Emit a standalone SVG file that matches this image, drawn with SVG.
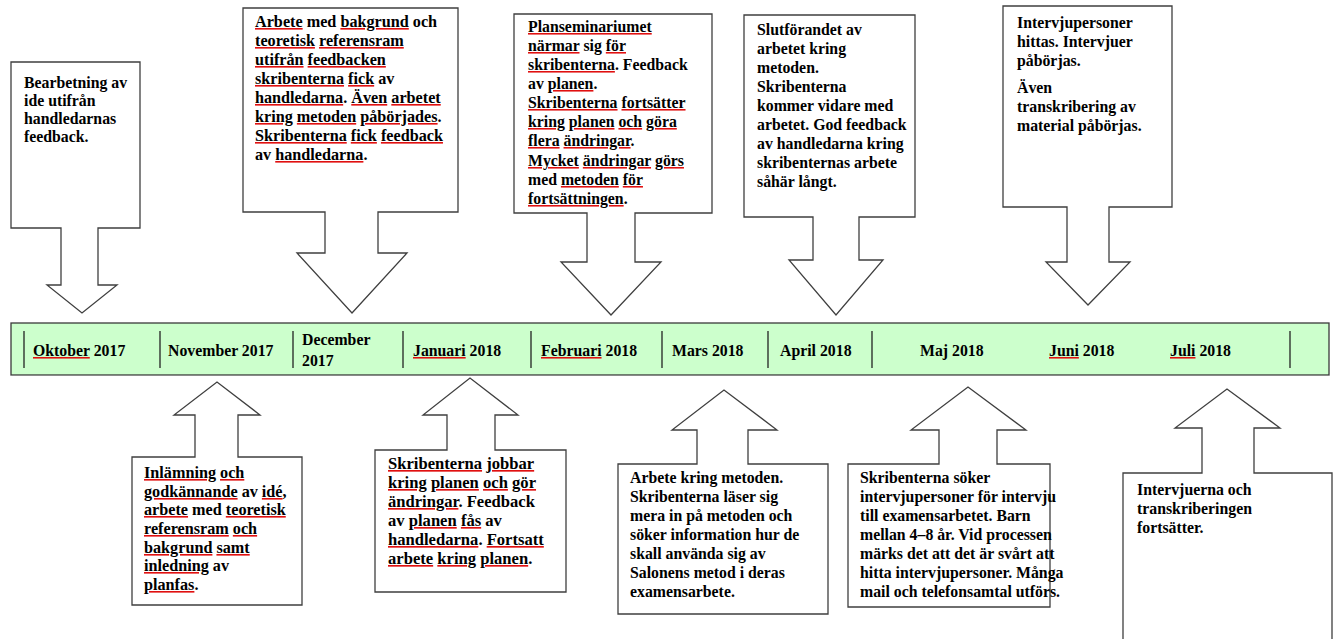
<svg xmlns="http://www.w3.org/2000/svg" width="1335" height="639" viewBox="0 0 1335 639">
<style>
.c{fill:#fff;stroke:#3f3f3f;stroke-width:1.3;stroke-linejoin:miter}
.t{font-family:"Liberation Serif","Times New Roman",serif;font-weight:bold;font-size:15.8px;fill:#000}
.m{font-size:16.2px}
.l{font-size:16.6px}
.u{text-decoration:underline wavy;text-decoration-color:#e01010;fill:#e01010}
.u>tspan{fill:#000}
.bar{fill:#ccffcc;stroke:#3a3a3a;stroke-width:1.3}
.div{stroke:#222;stroke-width:1.3}
</style>
<rect width="1335" height="639" fill="#fff"/>
<g id="connectors"/>
<g id="timeline">
<rect class="bar" x="11" y="323" width="1318" height="52"/>
<line x1="11" y1="375.5" x2="1329" y2="375.5" stroke="#888" stroke-width="1.2"/>
<g class="div">
<line x1="24" y1="331" x2="24" y2="368"/>
<line x1="160" y1="331" x2="160" y2="368"/>
<line x1="293" y1="331" x2="293" y2="368"/>
<line x1="403" y1="331" x2="403" y2="368"/>
<line x1="531" y1="331" x2="531" y2="368"/>
<line x1="662" y1="331" x2="662" y2="368"/>
<line x1="768" y1="331" x2="768" y2="368"/>
<line x1="872" y1="331" x2="872" y2="368"/>
<line x1="1290" y1="331" x2="1290" y2="368"/>
</g>
<g class="t">
<text x="33" y="356"><tspan class="u"><tspan>Oktober</tspan></tspan> 2017</text>
<text x="168" y="356">November 2017</text>
<text x="302" y="345">December</text>
<text x="302" y="366">2017</text>
<text x="413" y="356"><tspan class="u"><tspan>Januari</tspan></tspan> 2018</text>
<text x="541" y="356"><tspan class="u"><tspan>Februari</tspan></tspan> 2018</text>
<text x="672" y="356">Mars 2018</text>
<text x="780" y="356">April 2018</text>
<text x="920" y="356">Maj 2018</text>
<text x="1049" y="356"><tspan class="u"><tspan>Juni</tspan></tspan> 2018</text>
<text x="1170" y="356"><tspan class="u"><tspan>Juli</tspan></tspan> 2018</text>
</g>
</g>
<g id="top1">
<path class="c" d="M11 62H140V228H98V285H117L82 313L47 285H61V228H11Z"/>
<text class="t"><tspan x="24" y="88">Bearbetning av</tspan><tspan x="24" y="106">ide utifrån</tspan><tspan x="24" y="124">handledarnas</tspan><tspan x="24" y="142">feedback.</tspan></text>
</g>
<g id="top2">
<path class="c" d="M243 8H458V212H378V253H407L352 313L297 253H325V212H243Z"/>
<text class="t m"><tspan x="255" y="27"><tspan class="u"><tspan>Arbete</tspan></tspan> med <tspan class="u"><tspan>bakgrund</tspan></tspan> och</tspan><tspan x="255" y="46"><tspan class="u"><tspan>teoretisk</tspan></tspan> <tspan class="u"><tspan>referensram</tspan></tspan></tspan><tspan x="255" y="65"><tspan class="u"><tspan>utifrån</tspan></tspan> <tspan class="u"><tspan>feedbacken</tspan></tspan></tspan><tspan x="255" y="84"><tspan class="u"><tspan>skribenterna</tspan></tspan> <tspan class="u"><tspan>fick</tspan></tspan> av</tspan><tspan x="255" y="103"><tspan class="u"><tspan>handledarna</tspan></tspan>. <tspan class="u"><tspan>Även</tspan></tspan> <tspan class="u"><tspan>arbetet</tspan></tspan></tspan><tspan x="255" y="122"><tspan class="u"><tspan>kring</tspan></tspan> <tspan class="u"><tspan>metoden</tspan></tspan> <tspan class="u"><tspan>påbörjades</tspan></tspan>.</tspan><tspan x="255" y="141"><tspan class="u"><tspan>Skribenterna</tspan></tspan> <tspan class="u"><tspan>fick</tspan></tspan> <tspan class="u"><tspan>feedback</tspan></tspan></tspan><tspan x="255" y="160">av <tspan class="u"><tspan>handledarna</tspan></tspan>.</tspan></text>
</g>
<g id="top3">
<path class="c" d="M514 14H712V213H635V262H661L611 315L561 262H587V213H514Z"/>
<text class="t"><tspan x="528" y="32"><tspan class="u"><tspan>Planseminariumet</tspan></tspan></tspan><tspan x="528" y="51"><tspan class="u"><tspan>närmar</tspan></tspan> sig <tspan class="u"><tspan>för</tspan></tspan></tspan><tspan x="528" y="70"><tspan class="u"><tspan>skribenterna</tspan></tspan>. Feedback</tspan><tspan x="528" y="89">av <tspan class="u"><tspan>planen</tspan></tspan>.</tspan><tspan x="528" y="108"><tspan class="u"><tspan>Skribenterna</tspan></tspan> <tspan class="u"><tspan>fortsätter</tspan></tspan></tspan><tspan x="528" y="127"><tspan class="u"><tspan>kring</tspan></tspan> <tspan class="u"><tspan>planen</tspan></tspan> <tspan class="u"><tspan>och</tspan></tspan> <tspan class="u"><tspan>göra</tspan></tspan></tspan><tspan x="528" y="146"><tspan class="u"><tspan>flera</tspan></tspan> <tspan class="u"><tspan>ändringar</tspan></tspan>.</tspan><tspan x="528" y="166"><tspan class="u"><tspan>Mycket</tspan></tspan> <tspan class="u"><tspan>ändringar</tspan></tspan> <tspan class="u"><tspan>görs</tspan></tspan></tspan><tspan x="528" y="185">med <tspan class="u"><tspan>metoden</tspan></tspan> <tspan class="u"><tspan>för</tspan></tspan></tspan><tspan x="528" y="204"><tspan class="u"><tspan>fortsättningen</tspan></tspan>.</tspan></text>
</g>
<g id="top4">
<path class="c" d="M744 15H915V217H859V260H883L836 315L789 260H813V217H744Z"/>
<text class="t"><tspan x="757" y="35">Slutförandet av</tspan><tspan x="757" y="54">arbetet kring</tspan><tspan x="757" y="73">metoden.</tspan><tspan x="757" y="92">Skribenterna</tspan><tspan x="757" y="111">kommer vidare med</tspan><tspan x="757" y="130">arbetet. God feedback</tspan><tspan x="757" y="149">av handledarna kring</tspan><tspan x="757" y="168">skribenternas arbete</tspan><tspan x="757" y="187">såhär långt.</tspan></text>
</g>
<g id="top5">
<path class="c" d="M1003 6H1172V207H1109V262H1130L1088 305L1046 262H1067V207H1003Z"/>
<text class="t"><tspan x="1017" y="28">Intervjupersoner</tspan><tspan x="1017" y="47">hittas. Intervjuer</tspan><tspan x="1017" y="66">påbörjas.</tspan><tspan x="1017" y="93">Även</tspan><tspan x="1017" y="112">transkribering av</tspan><tspan x="1017" y="131">material påbörjas.</tspan></text>
</g>
<g id="bottom1">
<path class="c" d="M132 457H195V415H174L217 382L260 415H238V457H302V605H132Z"/>
<text class="t m"><tspan x="144" y="478"><tspan class="u"><tspan>Inlämning</tspan></tspan> <tspan class="u"><tspan>och</tspan></tspan></tspan><tspan x="144" y="497"><tspan class="u"><tspan>godkännande</tspan></tspan> av <tspan class="u"><tspan>idé</tspan></tspan>,</tspan><tspan x="144" y="515"><tspan class="u"><tspan>arbete</tspan></tspan> med <tspan class="u"><tspan>teoretisk</tspan></tspan></tspan><tspan x="144" y="534"><tspan class="u"><tspan>referensram</tspan></tspan> <tspan class="u"><tspan>och</tspan></tspan></tspan><tspan x="144" y="553"><tspan class="u"><tspan>bakgrund</tspan></tspan> <tspan class="u"><tspan>samt</tspan></tspan></tspan><tspan x="144" y="571"><tspan class="u"><tspan>inledning</tspan></tspan> av</tspan><tspan x="144" y="590"><tspan class="u"><tspan>planfas</tspan></tspan>.</tspan></text>
</g>
<g id="bottom2">
<path class="c" d="M375 450H447V415H423L470 378L518 415H495V450H566V592H375Z"/>
<text class="t l"><tspan x="388" y="469"><tspan class="u"><tspan>Skribenterna</tspan></tspan> <tspan class="u"><tspan>jobbar</tspan></tspan></tspan><tspan x="388" y="488"><tspan class="u"><tspan>kring</tspan></tspan> <tspan class="u"><tspan>planen</tspan></tspan> <tspan class="u"><tspan>och</tspan></tspan> <tspan class="u"><tspan>gör</tspan></tspan></tspan><tspan x="388" y="507"><tspan class="u"><tspan>ändringar</tspan></tspan>. Feedback</tspan><tspan x="388" y="526">av <tspan class="u"><tspan>planen</tspan></tspan> <tspan class="u"><tspan>fås</tspan></tspan> av</tspan><tspan x="388" y="545"><tspan class="u"><tspan>handledarna</tspan></tspan>. <tspan class="u"><tspan>Fortsatt</tspan></tspan></tspan><tspan x="388" y="564"><tspan class="u"><tspan>arbete</tspan></tspan> <tspan class="u"><tspan>kring</tspan></tspan> <tspan class="u"><tspan>planen</tspan></tspan>.</tspan></text>
</g>
<g id="bottom3">
<path class="c" d="M618 464H697V430H672L724 390L777 430H748V464H828V614H618Z"/>
<text class="t"><tspan x="630" y="483">Arbete kring metoden.</tspan><tspan x="630" y="502">Skribenterna läser sig</tspan><tspan x="630" y="521">mera in på metoden och</tspan><tspan x="630" y="540">söker information hur de</tspan><tspan x="630" y="559">skall använda sig av</tspan><tspan x="630" y="578">Salonens metod i deras</tspan><tspan x="630" y="597">examensarbete.</tspan></text>
</g>
<g id="bottom4">
<path class="c" d="M848 464H939V430H911L968 387L1026 430H997V464H1050V607H848Z"/>
<text class="t"><tspan x="860" y="483">Skribenterna söker</tspan><tspan x="860" y="502">intervjupersoner för intervju</tspan><tspan x="860" y="521">till examensarbetet. Barn</tspan><tspan x="860" y="540">mellan 4–8 år. Vid processen</tspan><tspan x="860" y="559">märks det att det är svårt att</tspan><tspan x="860" y="578">hitta intervjupersoner. Många</tspan><tspan x="860" y="597">mail och telefonsamtal utförs.</tspan></text>
</g>
<g id="bottom5">
<path class="c" d="M1123 473H1202V428H1175L1227 389L1280 428H1254V473H1332V645H1123Z"/>
<text class="t"><tspan x="1137" y="495">Intervjuerna och</tspan><tspan x="1137" y="514">transkriberingen</tspan><tspan x="1137" y="533">fortsätter.</tspan></text>
</g>
</svg>
